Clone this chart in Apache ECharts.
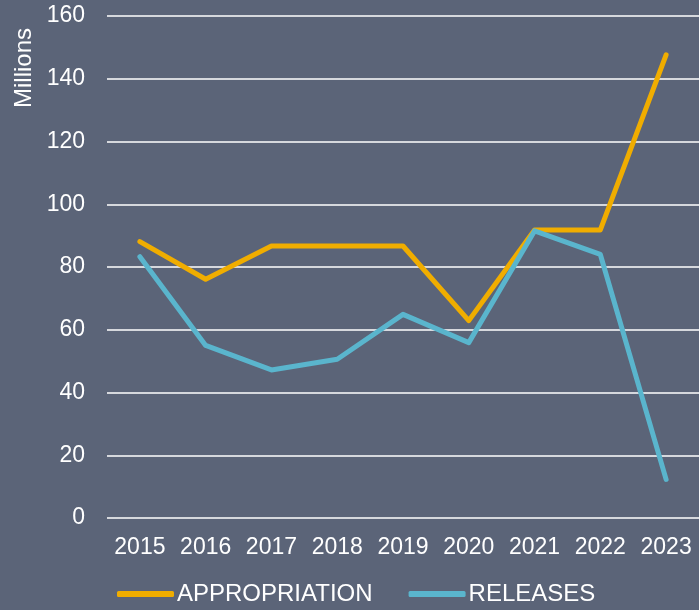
<!DOCTYPE html>
<html>
<head>
<meta charset="utf-8">
<script src="https://cdn.jsdelivr.net/npm/echarts@6/dist/echarts.min.js"></script>
<style>
  html, body { margin: 0; padding: 0; background: #5b6478; }
  #chart { width: 699px; height: 610px; }
</style>
</head>
<body>
<div id="chart"></div>
<script>
const years = ['2015', '2016', '2017', '2018', '2019', '2020', '2021', '2022', '2023'];
const appropriation = [88.1, 76.1, 86.7, 86.7, 86.7, 62.9, 91.8, 91.8, 147.6];
const releases = [83.3, 55.0, 47.2, 50.6, 64.9, 55.9, 91.5, 84.0, 12.3];

const font = 'Liberation Sans, Arial, sans-serif';

const chart = echarts.init(document.getElementById('chart'));
chart.setOption({
    backgroundColor: '#5b6478',
    animation: false,
    textStyle: { fontFamily: font },
    grid: { left: 107, top: 16, width: 595, height: 502, containLabel: false },
    xAxis: {
        type: 'category',
        data: years,
        boundaryGap: true,
        axisLine: { show: false },
        axisTick: { show: false },
        axisLabel: { color: '#fff', fontSize: 23, fontFamily: font, margin: 18, interval: 0, hideOverlap: false }
    },
    yAxis: {
        type: 'value',
        min: 0,
        max: 160,
        interval: 20,
        axisLine: { show: false },
        axisTick: { show: false },
        axisLabel: { color: '#fff', fontSize: 23, fontFamily: font, margin: 22 },
        splitLine: { lineStyle: { color: '#ffffff', width: 1.5 } }
    },
    legend: {
        left: 117,
        bottom: 0,
        padding: [0, 0, 4, 0],
        itemWidth: 57,
        itemHeight: 6,
        itemGap: 36,
        icon: 'roundRect',
        textStyle: { color: '#fff', fontSize: 24, fontFamily: font, padding: [0, 0, 0, -2] },
        data: ['APPROPRIATION', 'RELEASES']
    },
    graphic: [{
        type: 'text',
        left: 12,
        top: 28,
        rotation: Math.PI / 2,
        style: { text: 'Millions', fill: '#fff', fontSize: 24, fontFamily: font }
    }],
    series: [
        {
            name: 'APPROPRIATION',
            type: 'line',
            data: appropriation,
            symbol: 'none',
            itemStyle: { color: '#f0ad00' },
            lineStyle: { color: '#f0ad00', width: 5, cap: 'round', join: 'round' }
        },
        {
            name: 'RELEASES',
            type: 'line',
            data: releases,
            symbol: 'none',
            itemStyle: { color: '#5ab5cd' },
            lineStyle: { color: '#5ab5cd', width: 5, cap: 'round', join: 'round' }
        }
    ]
});
</script>
</body>
</html>
